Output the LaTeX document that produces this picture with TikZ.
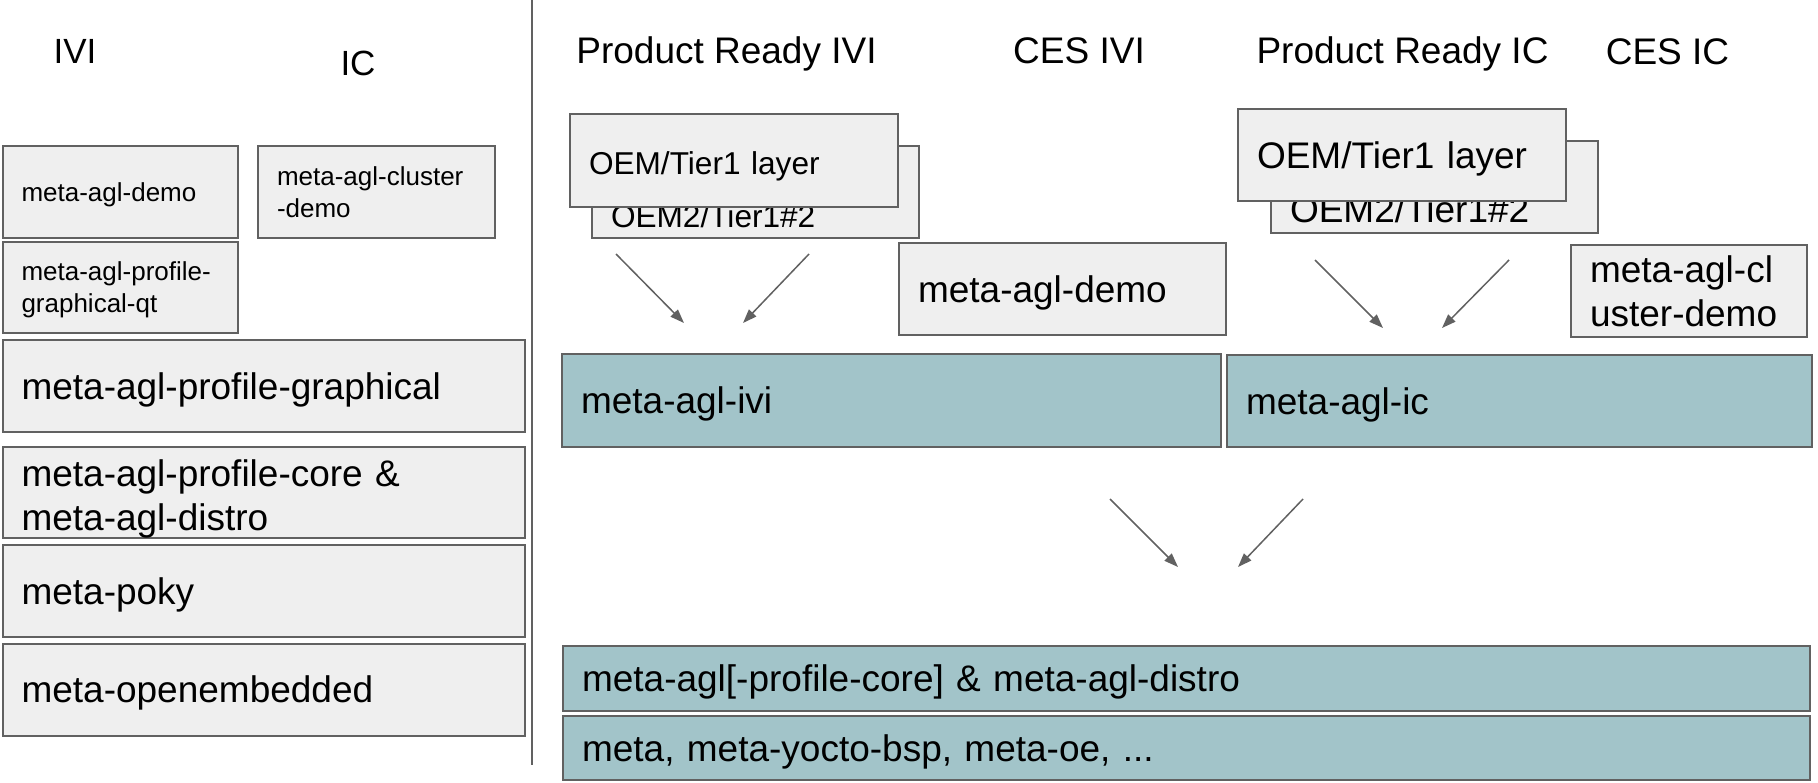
\documentclass[tikz,border=0pt]{standalone}
\usepackage{fontspec}
\setmainfont{Liberation Sans}
\usetikzlibrary{arrows.meta}
\definecolor{layergrey}{HTML}{EFEFEF}
\definecolor{layerteal}{HTML}{A2C4C9}
\definecolor{edgegrey}{HTML}{616161}
\newcommand{\bigtxt}{\fontsize{18.5}{22}\selectfont}
\newcommand{\smalltxt}{\fontsize{13}{16}\selectfont}
\newcommand{\oemtxt}{\fontsize{15.8}{19}\selectfont}

\begin{document}
\begin{tikzpicture}[x=0.5pt,y=-0.5pt,
  layer/.style={draw=edgegrey, line width=1pt, fill=layergrey, inner xsep=9.5pt, inner ysep=0pt, align=left, minimum height=46pt, font=\bigtxt, text height=13.25pt, text depth=0pt},
  teallayer/.style={layer, fill=layerteal},
  hdr/.style={anchor=base, inner sep=0pt, font=\bigtxt},
  flow/.style={draw=edgegrey, line width=0.75pt, -{Triangle[length=7pt,width=5pt]}}]
\useasboundingbox (0,0) rectangle (1818,782);
% left: IVI / IC layer stacks
\node[hdr, font=\fontsize{17.5}{21}\selectfont] (ivihdr) at (75,63) {IVI};
\node[hdr, font=\fontsize{17.5}{21}\selectfont] (ichdr) at (358,75) {IC};
\node[layer, font=\smalltxt, text height=9.3pt, text width=98.75pt] (ividemo) at (120.25,192) {meta-agl-demo};
\node[layer, font=\smalltxt, text height=9.5pt, text depth=16.2pt, text width=99.5pt] (icdemo) at (376.5,192) {meta-agl-cluster\\-demo};
\node[layer, font=\smalltxt, text height=12pt, text depth=18.7pt, text width=98.75pt, minimum height=45.5pt] (gfxqt) at (120.25,287.5) {meta-agl-profile-\\graphical-qt};
\node[layer, text width=242.25pt] (gfx) at (263.75,386) {meta-agl-profile-graphical};
\node[layer, text height=19.5pt, text depth=25.9pt, text width=242.25pt, minimum height=45.5pt] (core) at (263.75,492.5) {meta-agl-profile-core \&\\meta-agl-distro};
\node[layer, text width=242.25pt] (poky) at (263.75,591) {meta-poky};
\node[layer, text width=242.25pt] (oe) at (263.75,689.5) {meta-openembedded};
\draw[edgegrey, line width=1pt] (532,0) -- (532,765);
% right: headers
\node[hdr] (privihdr) at (726.5,63) {Product Ready IVI};
\node[hdr] (cesivihdr) at (1079,63) {CES IVI};
\node[hdr] (pricdr) at (1402.5,63) {Product Ready IC};
\node[hdr] (cesichdr) at (1667.5,64) {CES IC};
% OEM layers
\node[layer, font=\oemtxt, text width=144.5pt, text height=38pt, text depth=3pt] (oemtwoivi) at (755.5,192) {OEM2/Tier1\#2};
\node[layer, font=\oemtxt, text height=13.8pt, text width=145pt, minimum height=46.5pt] (oemivi) at (734,160.5) {OEM/Tier1 layer};
\node[layer, text width=144.5pt, text height=38pt, text depth=3pt] (oemtwoic) at (1434.5,187) {OEM2/Tier1\#2};
\node[layer, text width=145pt] (oemic) at (1402,155) {OEM/Tier1 layer};
\node[layer, text width=144.5pt] (cesdemo) at (1062.5,289) {meta-agl-demo};
\node[layer, text height=13.5pt, text depth=22.3pt, text width=99pt] (cescluster) at (1689,291) {meta-agl-cl\\uster-demo};
% product layers
\node[teallayer, text width=310.5pt, minimum height=46.5pt] (ivi) at (891.5,400.5) {meta-agl-ivi};
\node[teallayer, text width=273.5pt] (ic) at (1519.5,401) {meta-agl-ic};
\node[teallayer, text width=604.5pt, minimum height=32.5pt] (distro) at (1186.5,678.5) {meta-agl[-profile-core] \& meta-agl-distro};
\node[teallayer, text width=604.5pt, minimum height=32pt] (base) at (1186.5,748) {meta, meta-yocto-bsp, meta-oe, ...};
% arrows
\coordinate (a1s) at (616,254);
\coordinate (a1e) at (684,323);
\coordinate (a2s) at (809,254);
\coordinate (a2e) at (743,323);
\coordinate (a3s) at (1315,260);
\coordinate (a3e) at (1383,328);
\coordinate (a4s) at (1509,260);
\coordinate (a4e) at (1442,328);
\coordinate (a5s) at (1110,499);
\coordinate (a5e) at (1178,567);
\coordinate (a6s) at (1303,499);
\coordinate (a6e) at (1238,567);
\draw[flow] (a1s) -- (a1e);
\draw[flow] (a2s) -- (a2e);
\draw[flow] (a3s) -- (a3e);
\draw[flow] (a4s) -- (a4e);
\draw[flow] (a5s) -- (a5e);
\draw[flow] (a6s) -- (a6e);
\end{tikzpicture}
\end{document}
